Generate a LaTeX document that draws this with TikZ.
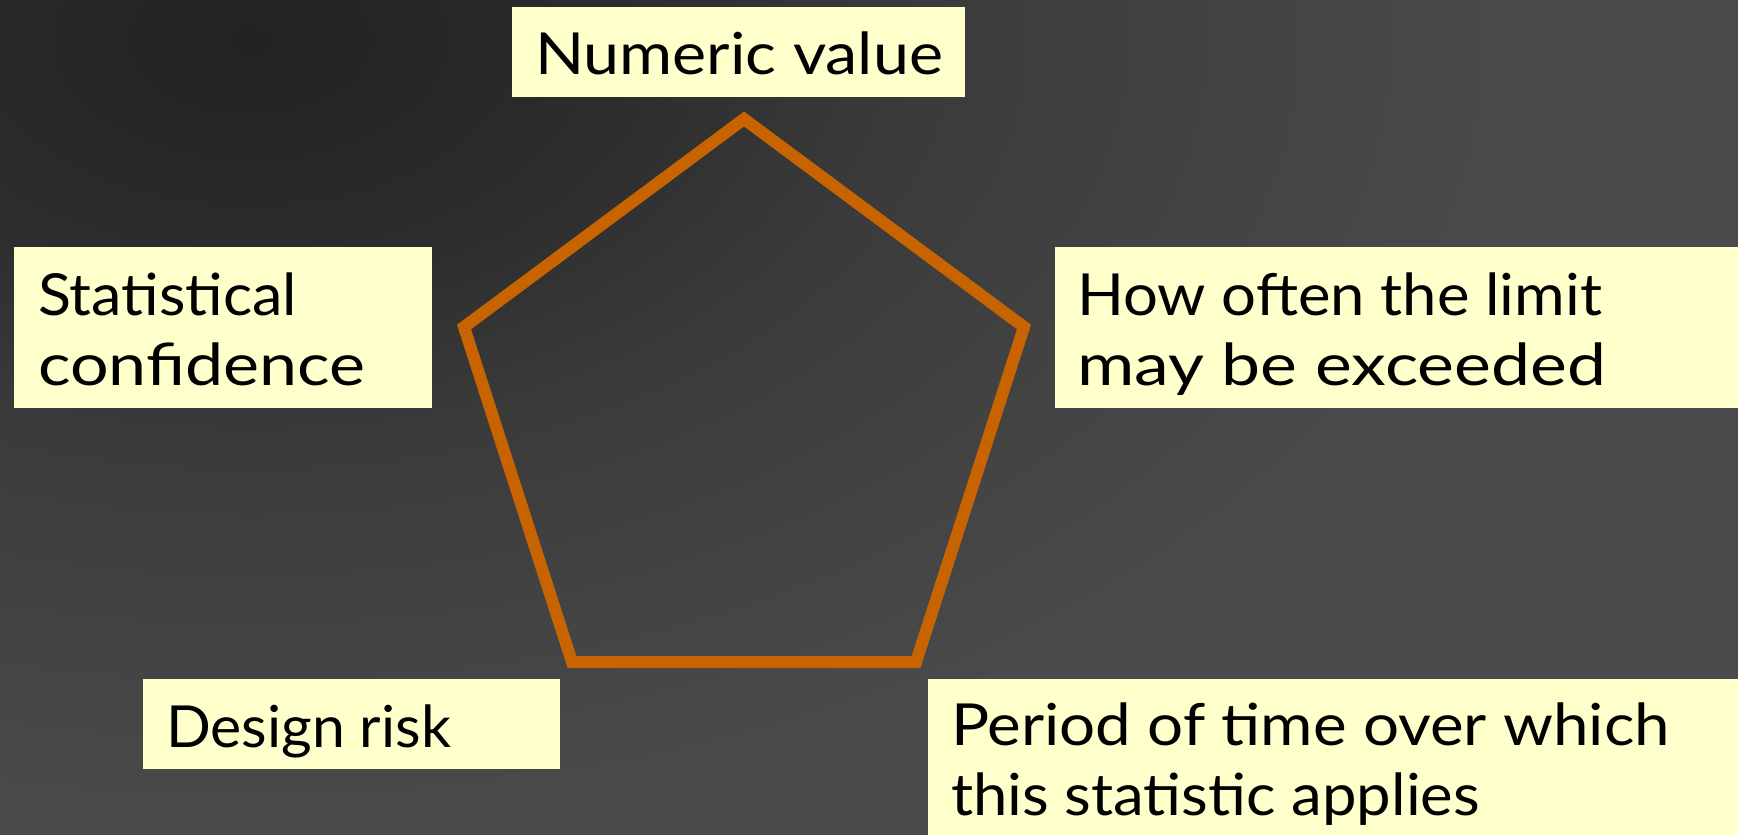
\documentclass[tikz,border=0pt]{standalone}
\usepackage{fontspec}
\setmainfont{Lato}
\usepackage{graphicx}
\definecolor{boxfill}{HTML}{FFFFCC}
\definecolor{penta}{HTML}{C86400}
\definecolor{bgA}{HTML}{222222}
\definecolor{bgB}{HTML}{2C2C2C}
\definecolor{bgC}{HTML}{3A3A3A}
\definecolor{bgD}{HTML}{424242}
\definecolor{bgE}{HTML}{4A4A4A}
\pgfdeclareradialshading{bgshade}{\pgfpoint{0bp}{0bp}}{color(0bp)=(bgA); color(5bp)=(bgB); color(9bp)=(bgC); color(13bp)=(bgD); color(18bp)=(bgE); color(50bp)=(bgE)}
\newcommand{\fitw}[2]{\resizebox{#1}{\height}{#2}}
\begin{document}
\begin{tikzpicture}[x=1pt,y=-1pt,
  box/.style={fill=boxfill, draw=none, inner sep=0pt, outer sep=0pt, anchor=north west},
  txt/.style={anchor=base west, inner sep=0pt, outer sep=0pt, font=\fontsize{58}{70}\selectfont, text=black},
  edge/.style={draw=penta, line width=12pt, line join=miter}]
\useasboundingbox (0,0) rectangle (1738,835);
\begin{scope}
  \clip (0,0) rectangle (1738,835);
  \fill[bgE] (0,0) rectangle (1738,835);
  \shade[shading=bgshade] (250,40) ellipse[x radius=1800pt, y radius=1100pt];
\end{scope}

% pentagon
\coordinate (ptop) at (744,119);
\coordinate (pright) at (1024,327);
\coordinate (pbr) at (916,662);
\coordinate (pbl) at (572,662);
\coordinate (pleft) at (464,327);
\draw[edge] (ptop) -- (pright) -- (pbr) -- (pbl) -- (pleft) -- cycle;

% boxes
\node[box, minimum width=453pt, minimum height=90pt] (numbox) at (512,7) {};
\node[txt] (numtxt) at (535,74) {\fitw{408pt}{Numeric value}};

\node[box, minimum width=418pt, minimum height=161pt] (statbox) at (14,247) {};
\node[txt] (stat1) at (38,315) {\fitw{259pt}{Statistical}};
\node[txt] (stat2) at (38,385) {\fitw{327pt}{confidence}};

\node[box, minimum width=684pt, minimum height=161pt] (howbox) at (1055,247) {};
\node[txt] (how1) at (1077,315) {\fitw{525pt}{How often the limit}};
\node[txt] (how2) at (1077,385) {\fitw{529pt}{may be exceeded}};

\node[box, minimum width=417pt, minimum height=90pt] (desbox) at (143,679) {};
\node[txt] (destxt) at (166,747) {\fitw{285pt}{Design risk}};

\node[box, minimum width=811pt, minimum height=157pt] (perbox) at (928,679) {};
\node[txt] (per1) at (951,745) {\fitw{719pt}{Period of time over which}};
\node[txt] (per2) at (951,815) {\fitw{529pt}{this statistic applies}};
\end{tikzpicture}
\end{document}
